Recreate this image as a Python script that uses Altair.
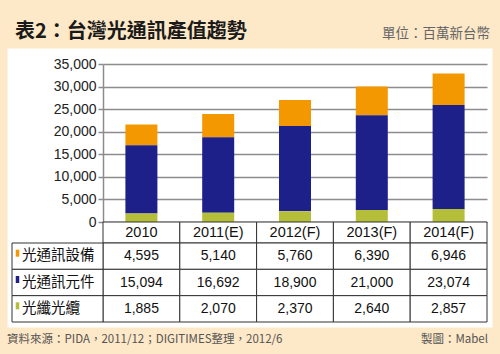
import altair as alt
import pandas as pd

# ---- data ----
years = ["2010", "2011(E)", "2012(F)", "2013(F)", "2014(F)"]
series = ["光通訊設備", "光通訊元件", "光纖光纜"]
equipment = [4595, 5140, 5760, 6390, 6946]
components = [15094, 16692, 18900, 21000, 23074]
fiber = [1885, 2070, 2370, 2640, 2857]
series_values = [equipment, components, fiber]
stack_order = [2, 1, 0]
colors = ["#F39800", "#1D2088", "#B5BE38"]
y_ticks = [0, 5000, 10000, 15000, 20000, 25000, 30000, 35000]

title_text = "表2：台灣光通訊產值趨勢"
unit_text = "單位：百萬新台幣"
source_text = "資料來源：PIDA，2011/12；DIGITIMES整理，2012/6"
credit_text = "製圖：Mabel"

rows = []
for s, vals, o in zip(series, series_values, stack_order):
    for y, v in zip(years, vals):
        rows.append({"year": y, "series": s, "value": v, "order": o})
df = pd.DataFrame(rows)
df_years = pd.DataFrame({"year": years, "row": ["header"] * len(years)})
df_labels = pd.DataFrame({"col": ["label"] * len(series), "series": series})

# ---- scales ----
x_year = alt.Scale(domain=years, range=[96, 480], paddingInner=0, paddingOuter=0)
y_val = alt.Scale(domain=[0, 35000], range=[174, 16], nice=False)
y_rows = alt.Scale(domain=series, range=[195, 274], paddingInner=0, paddingOuter=0)
y_head = alt.Scale(domain=["header"], range=[174, 195], paddingInner=0, paddingOuter=0)
x_lab = alt.Scale(domain=["label"], range=[5, 96], paddingInner=0, paddingOuter=0)
color_scale = alt.Scale(domain=series, range=colors)

GRID = "#8c8c8c"
LINE = "#333333"
NUM_FONT = "Liberation Sans"
CJK_FONT = "Noto Sans CJK TC"

bars = alt.Chart(df).mark_bar(size=32).encode(
    x=alt.X("year:N", scale=x_year, axis=None),
    y=alt.Y(
        "value:Q",
        stack="zero",
        scale=y_val,
        axis=alt.Axis(
            values=y_ticks, labelExpr="format(datum.value, ',')", offset=-96, title=None,
            tickSize=5, labelPadding=2, labelFontSize=14, labelFont=NUM_FONT,
            labelColor="#222222", domainColor=GRID, domainWidth=1.5,
            tickColor=GRID, tickWidth=1.5, grid=True, gridColor=GRID,
            gridWidth=1.5,
        ),
    ),
    color=alt.Color("series:N", scale=color_scale, legend=None),
    order=alt.Order("order:Q", sort="ascending"),
)

head_cells = alt.Chart(df_years).mark_rect(fill="white", stroke=LINE, strokeWidth=1).encode(
    x=alt.X("year:N", scale=x_year, axis=None),
    y=alt.Y("row:N", scale=y_head, axis=None),
)
head_text = alt.Chart(df_years).mark_text(font=NUM_FONT, fontSize=14.5, color="#111111").encode(
    x=alt.X("year:N", scale=x_year, axis=None),
    y=alt.Y("row:N", scale=y_head, axis=None),
    text="year:N",
)

cells = alt.Chart(df).mark_rect(fill="white", stroke=LINE, strokeWidth=1).encode(
    x=alt.X("year:N", scale=x_year, axis=None),
    y=alt.Y("series:N", scale=y_rows, axis=None),
)
cell_text = alt.Chart(df).mark_text(font=NUM_FONT, fontSize=14, color="#111111").encode(
    x=alt.X("year:N", scale=x_year, axis=None),
    y=alt.Y("series:N", scale=y_rows, axis=None),
    text=alt.Text("value:Q", format=","),
)

lab_cells = alt.Chart(df_labels).mark_rect(fill="white", stroke=LINE, strokeWidth=1).encode(
    x=alt.X("col:N", scale=x_lab, axis=None),
    y=alt.Y("series:N", scale=y_rows, axis=None),
)
# label column is 91px wide: its centre is 45.5px from the left border
lab_text = alt.Chart(df_labels).mark_text(
    font=CJK_FONT, fontSize=14.5, color="#111111", align="left", dx=-35.5
).encode(
    x=alt.X("col:N", scale=x_lab, axis=None),
    y=alt.Y("series:N", scale=y_rows, axis=None),
    text="series:N",
)
lab_marks = alt.Chart(df_labels).mark_point(
    shape="M-0.5,-1L0.5,-1L0.5,1L-0.5,1Z", size=49, filled=True, opacity=1, strokeWidth=0
).encode(
    x=alt.X("col:N", scale=x_lab, axis=None),
    y=alt.Y("series:N", scale=y_rows, axis=None),
    xOffset=alt.value(-40),
    yOffset=alt.value(-3),
    color=alt.Color("series:N", scale=color_scale, legend=None),
)

def note(text, x, y, **kw):
    return alt.Chart(pd.DataFrame({"t": [text]})).mark_text(baseline="middle", **kw).encode(
        x=alt.value(x), y=alt.value(y), text="t:N"
    )

t_title = note(title_text, 8, -16, align="left", fontSize=20, fontWeight="bold",
               font=CJK_FONT, color="#1a1a1a")
t_unit = note(unit_text, 483, -14, align="right", fontSize=13.5, font=CJK_FONT, color="#666666")
t_source = note(source_text, 0, 291.5, align="left", fontSize=11.5, font=CJK_FONT, color="#555555")
t_credit = note(credit_text, 481, 291.5, align="right", fontSize=11.5, font=CJK_FONT, color="#555555")

chart = alt.layer(
    bars, head_cells, head_text, cells, cell_text, lab_cells, lab_text, lab_marks,
    t_title, t_unit, t_source, t_credit,
).resolve_scale(
    x="independent", y="independent"
).properties(
    width=485,
    height=279,
    autosize=alt.AutoSizeParams(type="none"),
    padding={"left": 7, "top": 48, "right": 8, "bottom": 27},
    background="#FDE8C7",
).configure_view(fill="white", stroke="transparent")

chart.save("out.html", embed_options={"renderer": "svg", "actions": False})
